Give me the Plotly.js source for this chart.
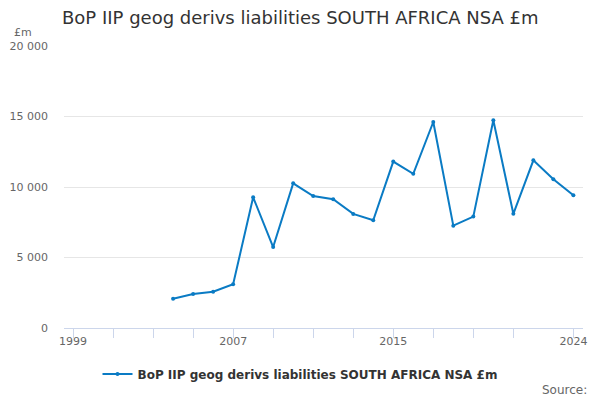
<!DOCTYPE html>
<html>
<head>
<meta charset="utf-8">
<script src="https://cdn.plot.ly/plotly-3.0.1.min.js"></script>
<style>html,body{margin:0;padding:0;background:#fff;}#chart{width:600px;height:400px;}</style>
</head>
<body>
<div id="chart"></div>
<script>
const years = [2004,2005,2006,2007,2008,2009,2010,2011,2012,2013,2014,2015,2016,2017,2018,2019,2020,2021,2022,2023,2024];
const values = [2080,2410,2570,3100,9270,5740,10260,9360,9130,8090,7640,11800,10940,14610,7260,7900,14730,8100,11890,10550,9410];
const seriesName = "BoP IIP geog derivs liabilities SOUTH AFRICA NSA £m";
const xTickVals = [1999,2001,2003,2005,2007,2009,2011,2013,2015,2017,2019,2021,2024];
const xTickText = ["1999","","","","2007","","","","2015","","","","2024"];
const yTickVals = [0,5000,10000,15000,20000];
const yTickText = ["0","5 000","10 000","15 000","20 000"];

const font = "DejaVu Sans, sans-serif";
const trace = {
  x: years, y: values, name: seriesName, type: "scatter", mode: "lines+markers",
  line: {color: "#0a7bc4", width: 2},
  marker: {color: "#0a7bc4", size: 4}
};
const layout = {
  width: 600, height: 400,
  margin: {l: 64, r: 17, t: 46, b: 72, autoexpand: false},
  paper_bgcolor: "#fff", plot_bgcolor: "#fff",
  font: {family: font, color: "#666", size: 11},
  title: {text: "BoP IIP geog derivs liabilities SOUTH AFRICA NSA £m", x: 62/600, xanchor: "left", y: 1 - 18/400, yanchor: "middle",
          font: {family: font, size: 18, color: "#333"}},
  xaxis: {range: [1998.55, 2024.48], tickmode: "array", tickvals: xTickVals, ticktext: xTickText,
          ticks: "outside", ticklen: 9, tickcolor: "#ccd6eb", showline: true, linecolor: "#ccd6eb",
          ticklabelstandoff: -6,
          showgrid: false, zeroline: false, tickfont: {size: 11, color: "#666"}, fixedrange: true},
  yaxis: {range: [0, 20000], tickmode: "array", tickvals: yTickVals, ticktext: yTickText,
          showgrid: true, gridcolor: "#e6e6e6", zeroline: false, showline: false, ticks: "",
          ticklabelstandoff: 15, tickfont: {size: 11, color: "#666"}, fixedrange: true},
  showlegend: true,
  legend: {orientation: "h", x: 0.5, xref: "container", xanchor: "center", y: 1 - 374/400, yref: "container", yanchor: "middle",
           font: {family: font, size: 12, color: "#333", weight: "bold"}, itemwidth: 30},
  annotations: [
    {text: "£m", xref: "paper", yref: "paper", x: -52/519, xanchor: "left", y: 1 + 14/282, yanchor: "middle",
     showarrow: false, font: {family: font, size: 11, color: "#666"}},
    {text: "Source:", xref: "paper", yref: "paper", x: 1 + 6/519, xanchor: "right", y: -62/282, yanchor: "middle",
     showarrow: false, font: {family: font, size: 12, color: "#666"}}
  ]
};
Plotly.newPlot("chart", [trace], layout, {displayModeBar: false, staticPlot: true});
</script>
</body>
</html>
